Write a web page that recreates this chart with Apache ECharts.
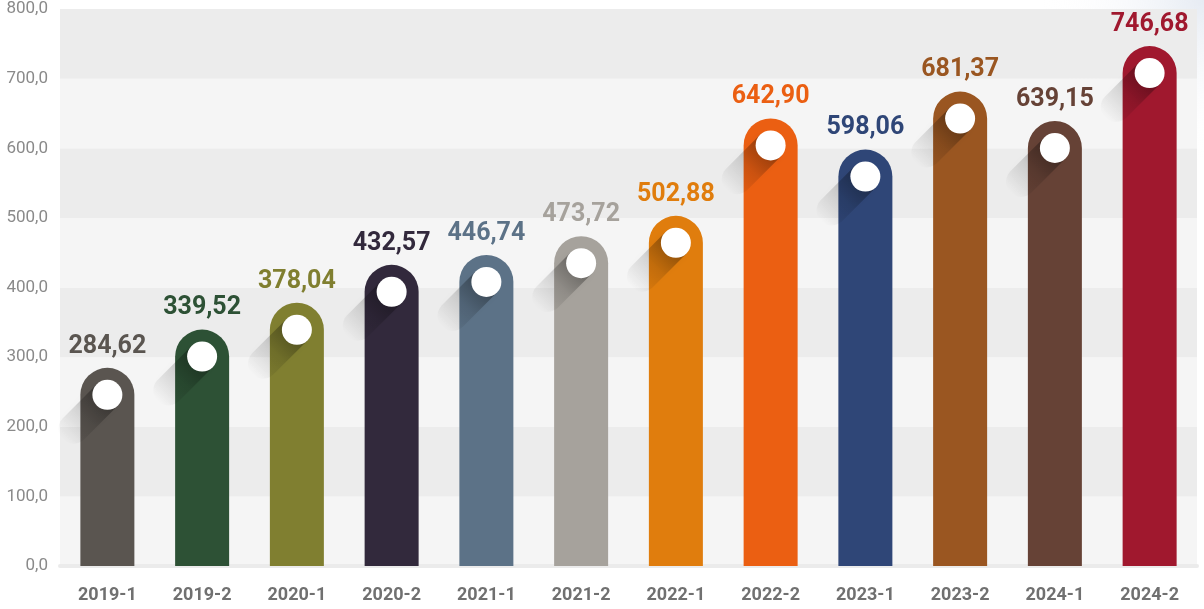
<!DOCTYPE html>
<html>
<head>
<meta charset="utf-8">
<script src="https://cdn.jsdelivr.net/npm/echarts@6/dist/echarts.min.js"></script>
<style>
  html, body { margin: 0; padding: 0; background: #ffffff; }
  #chart { width: 1204px; height: 609px; }
</style>
</head>
<body>
<div id="chart"></div>
<script>
// 半年度数据
const PERIODS = ['2019-1', '2019-2', '2020-1', '2020-2', '2021-1', '2021-2',
  '2022-1', '2022-2', '2023-1', '2023-2', '2024-1', '2024-2'];
const VALUES = [284.62, 339.52, 378.04, 432.57, 446.74, 473.72,
  502.88, 642.90, 598.06, 681.37, 639.15, 746.68];
const BAR_COLORS = ['#5a5550', '#2d5135', '#807f30', '#32293c', '#5c7287', '#a6a29c',
  '#e07d0d', '#eb5f12', '#2f4677', '#9a5621', '#664236', '#a0182e'];
const Y_TICKS = [0, 100, 200, 300, 400, 500, 600, 700, 800];

const FONT = 'Roboto, "Noto Sans", sans-serif';
const BAR_W = 54;
const DOT_R = 15;
const SHADOW_LEN = 48;

// 数字用逗号作小数点
const fmt = (v, d) => v.toFixed(d).replace('.', ',');

// 白点往左下 45° 的投影带（末端圆头）
function shadowPoints(cx, cy) {
  const k = Math.SQRT1_2;
  const d = [-k, k];          // 方向：左下
  const n = [k, k];           // 法向
  const ex = cx + d[0] * SHADOW_LEN, ey = cy + d[1] * SHADOW_LEN;
  const pts = [
    [cx + n[0] * DOT_R, cy + n[1] * DOT_R],
    [cx - n[0] * DOT_R, cy - n[1] * DOT_R],
  ];
  // 末端半圆：从 -n 经 d 转到 +n
  const a0 = Math.atan2(-n[1], -n[0]);
  for (let s = 0; s <= 12; s++) {
    const a = a0 - (Math.PI * s) / 12;
    pts.push([ex + DOT_R * Math.cos(a), ey + DOT_R * Math.sin(a)]);
  }
  return { pts, ex, ey };
}

function renderPill(params, api) {
  const i = api.value(0);
  const v = api.value(1);
  const top = api.coord([i, v]);
  const base = api.coord([i, 0]);
  const color = BAR_COLORS[i];
  const cx = top[0];
  const r = BAR_W / 2;
  const cy = top[1] + r;
  const sh = shadowPoints(cx, cy);

  return {
    type: 'group',
    children: [
      {
        type: 'rect',
        shape: { x: cx - r, y: top[1], width: BAR_W, height: base[1] - top[1], r: [r, r, 0, 0] },
        style: { fill: color },
      },
      {
        type: 'polygon',
        shape: { points: sh.pts, smooth: 0 },
        style: {
          fill: {
            type: 'linear', global: true,
            x: cx, y: cy, x2: sh.ex - DOT_R * 0.7, y2: sh.ey + DOT_R * 0.7,
            colorStops: [
              { offset: 0, color: 'rgba(0,0,0,0.36)' },
              { offset: 0.5, color: 'rgba(0,0,0,0.12)' },
              { offset: 1, color: 'rgba(0,0,0,0.0)' },
            ],
          },
          shadowBlur: 6,
          shadowColor: 'rgba(0,0,0,0.15)',
        },
      },
      {
        type: 'circle',
        shape: { cx, cy, r: DOT_R },
        style: { fill: '#ffffff' },
      },
      {
        type: 'text',
        style: {
          text: fmt(v, 2),
          x: cx, y: top[1] - 9,
          align: 'center', verticalAlign: 'bottom',
          fill: color,
          font: 'bold 25px ' + FONT,
        },
      },
    ],
  };
}

const chart = echarts.init(document.getElementById('chart'));
chart.setOption({
  animation: false,
  graphic: [{
    type: 'rect', z: -10,
    shape: { x: 900, y: 0, width: 304, height: 160 },
    style: {
      fill: {
        type: 'radial', x: 1, y: 0, r: 1,
        colorStops: [
          { offset: 0, color: '#e6ebf3' },
          { offset: 1, color: 'rgba(255,255,255,0)' },
        ],
      },
    },
  }],
  grid: { left: 60, right: 7, top: 9, bottom: 43 },
  xAxis: {
    type: 'category',
    data: PERIODS,
    axisLine: { show: true, lineStyle: { color: '#ebebeb', width: 4 } },
    axisTick: { show: false },
    axisLabel: { color: '#707070', fontFamily: FONT, fontWeight: 'bold', fontSize: 18, margin: 20 },
  },
  yAxis: {
    type: 'value',
    min: Y_TICKS[0],
    max: Y_TICKS[Y_TICKS.length - 1],
    interval: 100,
    axisLine: { show: false },
    axisTick: { show: false },
    splitLine: { show: false },
    splitArea: { show: true, areaStyle: { color: ['#f5f5f5', '#ececec'] } },
    axisLabel: {
      color: '#8a8a8a', fontFamily: FONT, fontSize: 17, margin: 12,
      padding: [12, 0, 0, 0],
      formatter: (v) => fmt(v, 1),
    },
  },
  series: [{
    type: 'custom',
    z: 5,
    renderItem: renderPill,
    encode: { x: 0, y: 1 },
    data: VALUES.map((v, i) => [i, v]),
    clip: false,
  }],
});
</script>
</body>
</html>
